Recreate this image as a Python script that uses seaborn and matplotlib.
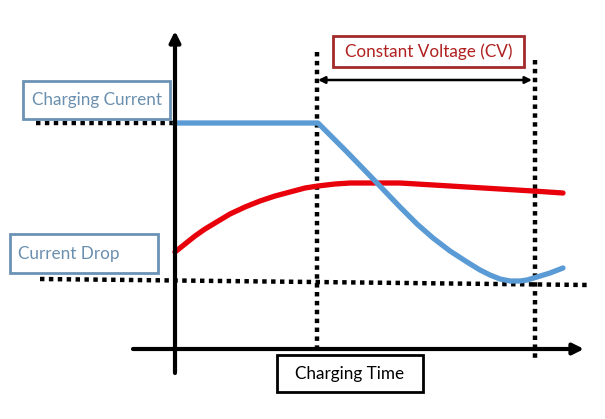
#importing libraries
import numpy as np
import pandas as pd
import matplotlib.pyplot as plt
import seaborn as sns
from matplotlib.patches import Rectangle

# curve points (x = time, y = level, screen units)
current_x = [175, 318, 347, 377, 400, 417, 433, 450, 467, 480, 490, 500, 510, 520, 527, 537, 550, 563]
current_y = [123, 123, 152, 183, 207, 224, 238, 251, 262, 270, 275, 279, 281, 281, 280, 277, 273, 268]
voltage_x = [175, 185, 195, 205, 215, 230, 245, 260, 275, 290, 305, 318, 335, 350, 375, 400, 450, 500, 533, 563]
voltage_y = [252, 244, 236, 229, 223, 214, 207, 201, 196, 192, 188, 186, 184, 183, 183, 183, 186, 189, 191, 193]

box_labels = ['Charging Current', 'Constant Voltage (CV)', 'Current Drop', 'Charging Time']

sns.set_theme(style='white')
plt.rcParams['font.family'] = ['Lato', 'DejaVu Sans']

fig = plt.figure(figsize=(6.05, 4.19), dpi=100)
ax = fig.add_axes([0, 0, 1, 1])

dots = dict(color='black', lw=3.2, ls=(0, (1, 1)), solid_capstyle='butt')

# dotted guide lines
ax.plot([36, 175], [123, 123], **dots)
ax.plot([40, 588], [279, 285], **dots)
ax.plot([317, 317], [52, 352], **dots)
ax.plot([535, 535], [60, 362], **dots)

# axes with arrows
ax.annotate('', xy=(175, 31), xytext=(175, 373),
            arrowprops=dict(arrowstyle='-|>', lw=3, color='black', mutation_scale=16, shrinkA=0, shrinkB=0))
ax.annotate('', xy=(584, 349), xytext=(133, 349),
            arrowprops=dict(arrowstyle='-|>', lw=3, color='black', mutation_scale=16, shrinkA=0, shrinkB=0))

# CV span arrow
ax.annotate('', xy=(532, 80), xytext=(318, 80),
            arrowprops=dict(arrowstyle='<|-|>', lw=1.8, color='black', mutation_scale=10, shrinkA=0, shrinkB=0))

# curves
cur = pd.DataFrame({'t': current_x, 'v': current_y})
vol = pd.DataFrame({'t': voltage_x, 'v': voltage_y})
sns.lineplot(data=vol, x='t', y='v', ax=ax, color='#E8000B', lw=3.8, sort=False)
sns.lineplot(data=cur, x='t', y='v', ax=ax, color='#5B9BD5', lw=3.8, sort=False)
ax.set_xlim(0, 605)
ax.set_ylim(419, 0)
ax.axis('off')

# label boxes
boxes = [(23, 81, 147, 38, '#6C93B5', '#6A8FAE'),
         (333, 36, 191, 31, '#A32A2A', '#B02020'),
         (10, 234, 148, 39, '#6C93B5', '#6A8FAE'),
         (277, 355, 146, 37, '#000000', '#000000')]
for (x0, y0, w, h, ec, tc), lab in zip(boxes, box_labels):
    ax.add_patch(Rectangle((x0, y0), w, h, fill=True, fc='white', ec=ec, lw=2, zorder=5))
    if lab == 'Current Drop':
        ax.text(x0 + 8, y0 + h / 2, lab, ha='left', va='center', fontsize=12.3, color=tc, zorder=6)
    else:
        ax.text(x0 + w / 2, y0 + h / 2, lab, ha='center', va='center', fontsize=12.3, color=tc, zorder=6)

plt.savefig('out.png', dpi=100)
